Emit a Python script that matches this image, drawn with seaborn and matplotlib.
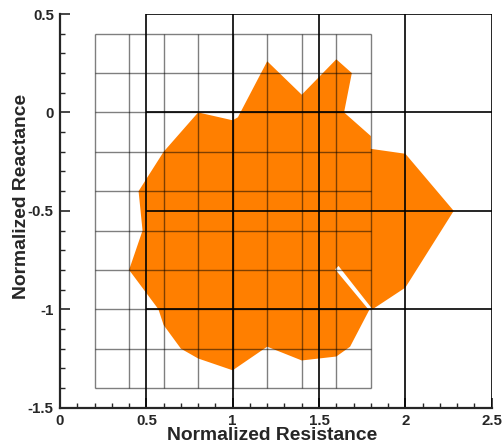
import numpy as np
import pandas as pd
import matplotlib
matplotlib.use("Agg")
import matplotlib.pyplot as plt
import seaborn as sns
from matplotlib.ticker import MultipleLocator

# Impedance region boundary (normalized resistance / reactance)
resistance = [0.40, 0.478, 0.455, 0.60, 0.80, 1.00, 1.03, 1.20, 1.40, 1.60, 1.69,
              1.645, 1.80, 1.80, 2.00, 2.28, 2.00, 1.81, 1.613, 1.593, 1.79,
              1.68, 1.60, 1.40, 1.20, 1.00, 0.80, 0.70, 0.60, 0.57]
reactance = [-0.80, -0.60, -0.40, -0.20, 0.00, -0.04, -0.025, 0.26, 0.09, 0.27, 0.20,
             0.00, -0.12, -0.185, -0.21, -0.50, -0.89, -1.00, -0.78, -0.797, -1.005,
             -1.19, -1.24, -1.26, -1.19, -1.31, -1.25, -1.20, -1.08, -1.00]

# Fine grid (step 0.2) and coarse grid (step 0.5)
fine_r = np.round(np.arange(0.2, 1.81, 0.2), 2)
fine_x = np.round(np.arange(-1.4, 0.41, 0.2), 2)
coarse_r = [0.5, 1.0, 1.5, 2.0, 2.5]
coarse_x = [-1.5, -1.0, -0.5, 0.0, 0.5]

sns.set_style("ticks")
plt.rcParams["font.family"] = ["Liberation Sans", "DejaVu Sans"]

fig = plt.figure(figsize=(5.03, 4.47), dpi=100)
ax = fig.add_axes([60 / 503, 1 - 407.7 / 447, 431.7 / 503, 393.7 / 447])

df = pd.DataFrame({"R": resistance, "X": reactance})
ax.fill(df["R"], df["X"], color="#ff7f00", lw=0, zorder=1)

# fine grid
ax.vlines(fine_r, fine_x.min(), fine_x.max(), colors="black", alpha=0.5, lw=1.0, zorder=2)
ax.hlines(fine_x, fine_r.min(), fine_r.max(), colors="black", alpha=0.5, lw=1.0, zorder=2)
# coarse grid
ax.vlines(coarse_r, min(coarse_x), max(coarse_x), colors="black", lw=1.2, zorder=3)
ax.hlines(coarse_x[1:], min(coarse_r), max(coarse_r), colors="black", lw=1.2, zorder=3)

ax.set_xlim(0, 2.5)
ax.set_ylim(-1.5, 0.5)
ax.set_xticks([0, 0.5, 1, 1.5, 2, 2.5])
ax.set_xticklabels(["0", "0.5", "1", "1.5", "2", "2.5"])
ax.set_yticks([-1.5, -1, -0.5, 0, 0.5])
ax.set_yticklabels(["-1.5", "-1", "-0.5", "0", "0.5"])
ax.xaxis.set_minor_locator(MultipleLocator(0.1))
ax.yaxis.set_minor_locator(MultipleLocator(0.1))

sns.despine(ax=ax, top=True, right=True)
for s in ("left", "bottom"):
    ax.spines[s].set_linewidth(1.6)
    ax.spines[s].set_zorder(4)

ax.tick_params(which="major", direction="in", length=7, width=1.2,
               labelsize=10.8, pad=4.5, top=False, right=False)
ax.tick_params(which="minor", direction="in", length=3.5, width=1.0,
               top=False, right=False)
for lab in ax.get_xticklabels() + ax.get_yticklabels():
    lab.set_fontweight("bold")

ax.set_xlabel("Normalized Resistance", fontsize=13.9, fontweight="bold")
ax.set_ylabel("Normalized Reactance", fontsize=13.9, fontweight="bold")
ax.xaxis.set_label_coords(0.491, -0.05)
ax.yaxis.set_label_coords(-0.069, 0.537)

fig.savefig("out.png", dpi=100)
